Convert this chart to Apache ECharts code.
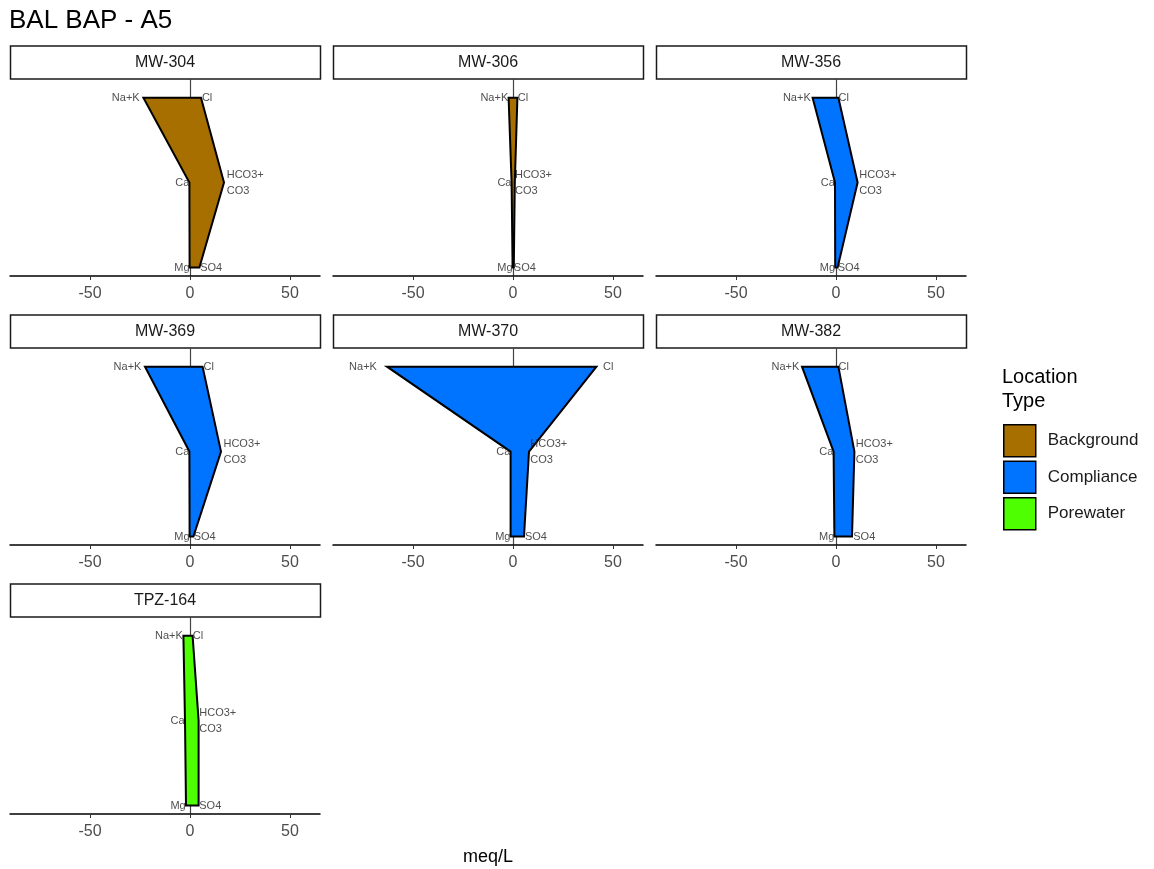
<!DOCTYPE html>
<html>
<head>
<meta charset="utf-8">
<script src="https://cdn.jsdelivr.net/npm/echarts@6/dist/echarts.min.js"></script>
<style>html,body{margin:0;padding:0;background:#fff}#c{width:1154px;height:869px}</style>
</head>
<body>
<div id="c"></div>
<script>
// ---- data (meq/L) ----
const stations     = ['MW-304','MW-306','MW-356','MW-369','MW-370','MW-382','TPZ-164'];
const locationType = ['Background','Background','Compliance','Compliance','Compliance','Compliance','Porewater'];
const naK  = [23.3, 2.2, 11.7, 22.5, 63.0, 17.0, 3.3];
const ca   = [0.3, 0.7, 0.5, 0.3, 1.2, 1.2, 2.5];
const mg   = [0.2, 0.2, 0.4, 0.2, 1.2, 0.8, 2.0];
const cl   = [5.5, 2.2, 1.2, 6.3, 41.7, 1.2, 1.3];
const hco3 = [17.0, 0.9, 10.8, 15.5, 8.0, 9.2, 4.3];
const so4  = [4.7, 0.4, 0.8, 1.7, 5.5, 8.0, 4.3];
const xTicks = [-50, 0, 50];
const typeNames = ['Background','Compliance','Porewater'];
const typeColors = {Background:'#A66F00', Compliance:'#0073FF', Porewater:'#4DFF00'};

// ---- layout ----
const FONT = '"Liberation Sans", Arial, sans-serif';
const colLeft = [10, 333, 656];
const rowTop = [79, 348, 617];
const panelW = 310, panelH = 197, stripH = 33;
const labelFactor = 1.08;

const grids = [], xAxes = [], yAxes = [], series = [], graphics = [];

stations.forEach((st, i) => {
  const col = i % 3, row = Math.floor(i / 3);
  const left = colLeft[col], top = rowTop[row];
  grids.push({left: left, top: top, width: panelW, height: panelH});
  xAxes.push({
    type: 'value', gridIndex: i, min: -90, max: 65,
    axisLine: {onZero: false, lineStyle: {color: '#000', width: 1.5}},
    axisTick: {show: true, length: 4, lineStyle: {color: '#333'}, customValues: xTicks},
    axisLabel: {customValues: xTicks, color: '#4D4D4D', fontSize: 16, fontFamily: FONT, margin: 10},
    splitLine: {show: false}
  });
  yAxes.push({
    type: 'value', gridIndex: i, min: 0.9, max: 3.22,
    axisLine: {show: true, onZero: true, lineStyle: {color: '#444', width: 1.2}},
    axisTick: {show: false}, axisLabel: {show: false}, splitLine: {show: false}
  });
  const color = typeColors[locationType[i]];
  const verts = [[-naK[i], 3], [cl[i], 3], [hco3[i], 2], [so4[i], 1], [-mg[i], 1], [-ca[i], 2]];
  series.push({
    type: 'custom', name: locationType[i], xAxisIndex: i, yAxisIndex: i,
    itemStyle: {color: color, borderColor: '#000', borderWidth: 1.5},
    silent: true, clip: false,
    data: [[0, 2]],
    renderItem: function (params, api) {
      const pts = verts.map(v => api.coord(v));
      return {type: 'polygon', shape: {points: pts},
        style: {fill: color, stroke: '#000', lineWidth: 2, lineJoin: 'miter'}};
    }
  });
  const lab = (x, y, text, pos) => ({
    value: [x * labelFactor, y], name: text,
    label: {position: pos, distance: 0, align: pos === 'left' ? 'right' : 'left'}
  });
  series.push({
    type: 'scatter', name: 'lbl' + i, xAxisIndex: i, yAxisIndex: i,
    symbolSize: 0, silent: true, z: 5,
    label: {show: true, formatter: p => p.name, fontSize: 11, color: '#222', fontFamily: FONT, lineHeight: 16},
    data: [
      lab(-naK[i], 3, 'Na+K', 'left'), lab(cl[i], 3, 'Cl', 'right'),
      lab(-ca[i], 2, 'Ca', 'left'), lab(hco3[i], 2, 'HCO3+\nCO3', 'right'),
      lab(-mg[i], 1, 'Mg', 'left'), lab(so4[i], 1, 'SO4', 'right')
    ]
  });
  graphics.push({
    type: 'rect', shape: {x: left + 0.5, y: top - stripH, width: panelW, height: stripH},
    style: {fill: '#fff', stroke: '#1a1a1a', lineWidth: 1.5}, silent: true
  });
  graphics.push({
    type: 'text', x: left + panelW / 2, y: top - stripH / 2,
    style: {text: st, fill: '#1a1a1a', font: '16px ' + FONT, align: 'center', verticalAlign: 'middle'}, silent: true
  });
});

graphics.push({type: 'text', x: 488, y: 857,
  style: {text: 'meq/L', fill: '#000', font: '18px ' + FONT, align: 'center', verticalAlign: 'middle'}});
graphics.push({type: 'text', x: 1002, y: 365,
  style: {text: 'Location\nType', fill: '#000', font: '20px ' + FONT, lineHeight: 24, align: 'left', verticalAlign: 'top'}});

const chart = echarts.init(document.getElementById('c'), null, {renderer: 'canvas'});
chart.setOption({
  animation: false,
  backgroundColor: '#fff',
  title: {text: 'BAL BAP - A5', left: 9, top: 8, padding: 0,
    textStyle: {fontSize: 26, fontWeight: 'normal', color: '#000', fontFamily: FONT}},
  legend: {
    data: typeNames, orient: 'vertical', left: 1003, top: 424, padding: 0,
    itemWidth: 32, itemHeight: 32, itemGap: 3, icon: 'rect',
    itemStyle: {borderColor: '#000', borderWidth: 1.5},
    textStyle: {fontSize: 17, color: '#1a1a1a', fontFamily: FONT, padding: [0, 0, 0, 7]},
    selectedMode: false
  },
  grid: grids, xAxis: xAxes, yAxis: yAxes, series: series,
  graphic: graphics
});
</script>
</body>
</html>
